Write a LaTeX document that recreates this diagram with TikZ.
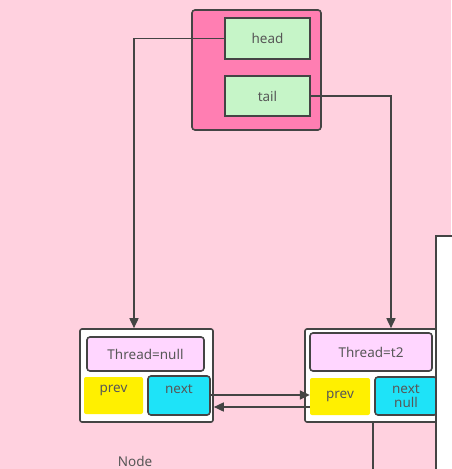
\documentclass[tikz,border=0pt]{standalone}
\usepackage{fontspec}
\setmainfont{Noto Sans}
\usetikzlibrary{arrows.meta}
\definecolor{bgpink}{HTML}{FFD1DF}
\definecolor{hotpink}{HTML}{FF7EB2}
\definecolor{lgreen}{HTML}{C6F5C8}
\definecolor{lpurple}{HTML}{FFD6FF}
\definecolor{yel}{HTML}{FFF000}
\definecolor{cyn}{HTML}{1EE3F8}
\definecolor{dk}{HTML}{444444}
\tikzset{
  txt/.style={font=\fontsize{13.5}{14}\selectfont, text=dk!90},
  field/.style={draw=dk, line width=1.6pt, fill=lgreen, inner sep=0pt, txt},
  nodebox/.style={draw=dk, line width=1.6pt, fill=white, rounded corners=2pt},
  thr/.style={draw=dk, line width=1.6pt, fill=lpurple, rounded corners=3pt, txt},
  prv/.style={fill=yel, rounded corners=2pt, txt},
  nxt/.style={draw=dk, line width=1.6pt, fill=cyn, rounded corners=3pt, txt},
  conn/.style={draw=dk, line width=1.6pt, -{Triangle[length=10pt,width=9pt]}},
}
\begin{document}
\begin{tikzpicture}[x=1pt,y=-1pt]
\fill[bgpink] (0,0) rectangle (451,469);
\useasboundingbox (0,0) rectangle (451,469);
% container
\draw[dk, line width=1.6pt, fill=hotpink, rounded corners=3pt] (192,10) rectangle (321,130);
\node[field, minimum width=85pt, minimum height=41pt] (head) at (267.5,38.5) {head};
\node[field, minimum width=85pt, minimum height=40pt] (tail) at (267.5,96) {tail};
% node 1
\node[nodebox, minimum width=133pt, minimum height=93pt] (n1) at (146.5,375.5) {};
\node[thr, minimum width=117pt, minimum height=34pt, inner sep=0pt] (t1) at (145.5,354) {Thread=null};
\node[prv, minimum width=59pt, minimum height=37pt, text depth=13pt, inner sep=0pt] (p1) at (113.5,395.5) {prev};
\node[nxt, minimum width=62pt, minimum height=39pt, text depth=13pt, inner sep=0pt] (x1) at (179,395.5) {next};
% node 2
\node[nodebox, minimum width=135pt, minimum height=93pt] (n2) at (372.5,375.5) {};
\node[thr, minimum width=122pt, minimum height=38pt, inner sep=0pt] (t2) at (371,352) {Thread=t2};
\node[prv, minimum width=60pt, minimum height=37pt, inner sep=0pt] (p2) at (340,396.5) {prev};
\node[nxt, minimum width=62pt, minimum height=38pt, inner sep=0pt, align=center, font=\fontsize{13.5}{14}\selectfont] (x2) at (406,396) {next\\null};
% right panel
\fill[white] (436,236) rectangle (455,475);
\draw[dk, line width=1.6pt] (436,475) -- (436,236) -- (455,236);
% connectors
\coordinate (hc) at (134,38.5);
\coordinate (tc) at (391,96);
\draw[conn] (head.west) -- (hc) -- (n1.north -| hc);
\draw[conn] (tail.east) -- (tc) -- (n2.north -| tc);
\draw[conn] (x1.east |- 0,395) -- (p2.west |- 0,395);
\draw[conn] (p2.west |- 0,407) -- (n1.east |- 0,407);
\coordinate (bot) at (373,469);
\draw[dk, line width=1.6pt] (n2.south -| bot) -- (bot);
\node[txt] (lbl) at (135,461) {Node};
\end{tikzpicture}
\end{document}
